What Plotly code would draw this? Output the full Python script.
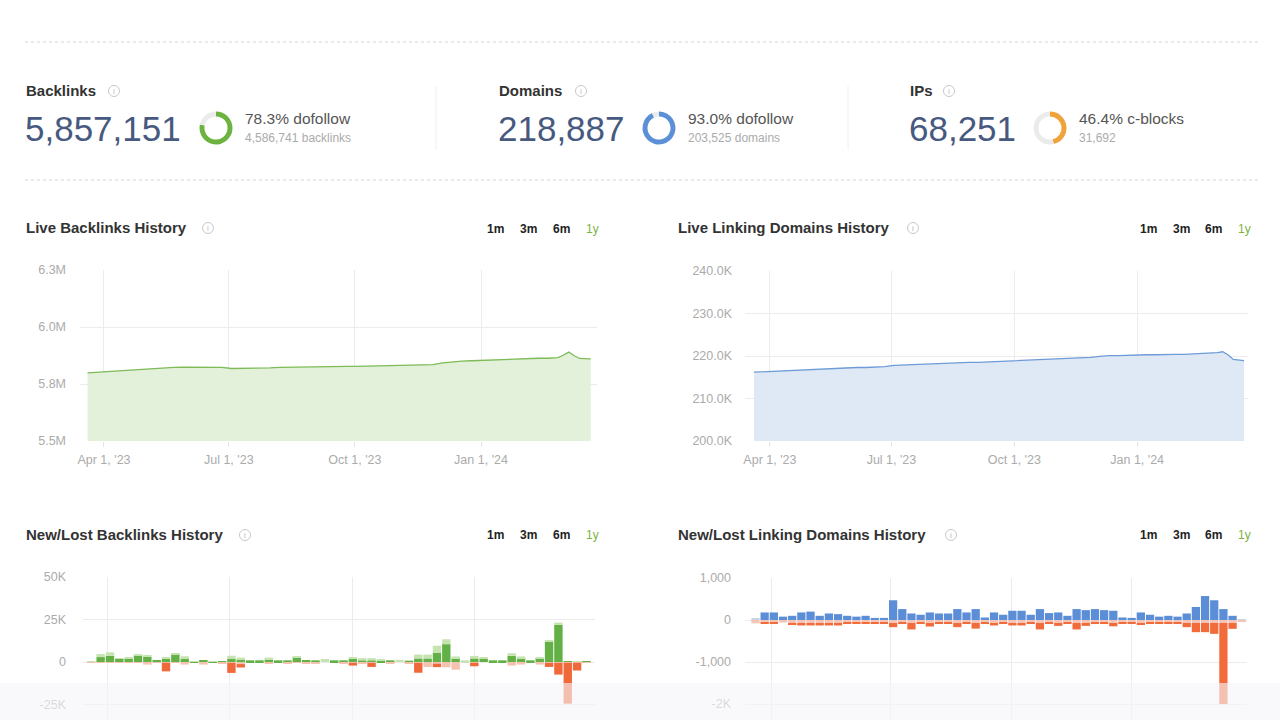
import plotly.graph_objects as go
import pandas as pd

W, H = 1280, 720
def px(x):
    return x / W
def py(y):
    return 1 - y / H

FONT = "Liberation Sans, Arial, Helvetica, sans-serif"

# ---------------- summary metrics ----------------
metric_labels = ["Backlinks", "Domains", "IPs"]
metric_values = ["5,857,151", "218,887", "68,251"]
ratio_pct = [78.3, 93.0, 46.4]
ratio_labels = ["78.3% dofollow", "93.0% dofollow", "46.4% c-blocks"]
ratio_subs = ["4,586,741 backlinks", "203,525 domains", "31,692"]
ring_colors = ["#6db33f", "#5b8fd6", "#f0a33a"]

# ---------------- live history (weekly + last days) ----------------
weekly_dates = list(pd.date_range("2023-03-20", periods=50, freq="7D"))
extra_dates = list(pd.to_datetime(["2024-03-01", "2024-03-05", "2024-03-09",
                                   "2024-03-13", "2024-03-17", "2024-03-21"]))
live_dates = weekly_dates + extra_dates

backlinks_m = [5.799, 5.802, 5.805, 5.808, 5.810, 5.813, 5.816, 5.818, 5.820, 5.823,
               5.824, 5.824, 5.824, 5.824, 5.823, 5.818, 5.818, 5.819, 5.820, 5.821,
               5.823, 5.824, 5.824, 5.825, 5.825, 5.826, 5.826, 5.827, 5.827, 5.828,
               5.829, 5.830, 5.831, 5.832, 5.833, 5.834, 5.835, 5.843, 5.848, 5.850,
               5.852, 5.854, 5.855, 5.856, 5.857, 5.859, 5.862, 5.863, 5.863, 5.866,
               5.876, 5.890, 5.874, 5.862, 5.861, 5.860]

domains_k = [216.2, 216.3, 216.5, 216.6, 216.7, 216.8, 216.9, 217.0, 217.0, 217.1,
             217.2, 217.3, 217.3, 217.4, 217.5, 217.8, 217.9, 217.9, 218.0, 218.1,
             218.2, 218.3, 218.4, 218.5, 218.5, 218.6, 218.7, 218.7, 218.8, 218.9,
             219.0, 219.1, 219.2, 219.3, 219.4, 219.5, 219.7, 219.9, 220.1, 220.1,
             220.2, 220.2, 220.3, 220.3, 220.4, 220.4, 220.4, 220.5, 220.5, 220.6,
             220.8, 221.0, 220.3, 219.2, 219.0, 218.9]

# ---------------- new / lost history (weekly bars) ----------------
bl_bar_dates = pd.date_range("2023-03-19 12:00", periods=54, freq="7D")
rd_bar_dates = pd.date_range("2023-03-20", periods=54, freq="7D")

bl_new_dark_k = [0, 2.9, 3.7, 1.8, 2.1, 4.1, 3.1, 1.2, 1.8, 4.7,
                 2.0, 0.4, 1.2, 0.3, 0.2, 2.0, 1.6, 1.0, 1.0, 1.6,
                 1.0, 1.0, 2.9, 1.2, 1.0, 0, 1.0, 1.0, 1.8, 1.0,
                 1.0, 1.0, 1.0, 0, 0.8, 2.1, 2.1, 5.3, 10.5, 2.3,
                 0, 2.1, 2.0, 1.0, 1.0, 3.7, 2.3, 1.0, 2.3, 12.0,
                 21.8, 0.3, 0.3, 0.3]
bl_new_light_k = [0.4, 1.8, 2.0, 0.4, 0.4, 0.4, 0.8, 0, 0.8, 0.4,
                  1.4, 0.2, 0, 0.2, 0, 1.7, 1.0, 0, 0, 1.0,
                  0, 0, 0.3, 0, 0, 1.8, 0, 0, 1.0, 1.3,
                  1.3, 0.8, 0, 1.3, 0, 2.3, 2.3, 4.3, 2.9, 1.0,
                  1.0, 1.5, 0.4, 0, 0, 1.5, 1.0, 0, 0.3, 0.4,
                  1.4, 0, 0.3, 0]
bl_lost_light_k = [-0.3, -0.5, -0.3, -0.3, -0.3, -0.3, -1.5, -0.3, -0.5, -0.3,
                   -1.5, 0, -1.5, 0, -1.0, -0.5, -1.2, 0, 0, -1.2,
                   0, -1.2, -0.3, -1.2, -1.2, 0, 0, -1.2, -0.5, -1.2,
                   -0.5, 0, -1.2, 0, -1.2, -0.5, -2.9, -1.0, -3.1, -4.5,
                   0, -0.5, 0, 0, 0, -2.1, -1.5, 0, -1.5, -0.5,
                   -0.5, -0.5, -0.5, -0.5]
bl_lost_dark_k = [0, 0, 0, 0, 0, 0, 0, 0, -5.0, 0,
                  0, 0, 0, 0, 0, -5.9, -2.0, 0, 0, 0,
                  0, 0, 0, 0, 0, 0, 0, 0, -1.6, 0,
                  -2.4, 0, 0, 0, 0, -5.8, 0, -2.0, 0, 0,
                  0, -2.0, 0, 0, 0, 0, 0, 0, 0, -2.4,
                  -6.9, -24.0, -4.5, 0]

rd_new_dark = [0, 180, 180, 80, 100, 180, 200, 100, 155, 140,
               100, 80, 100, 50, 50, 470, 260, 155, 125, 180,
               155, 155, 260, 180, 260, 60, 180, 125, 220, 220,
               125, 260, 165, 180, 100, 260, 235, 260, 235, 220,
               60, 50, 180, 125, 80, 100, 80, 155, 310, 570,
               470, 260, 100, 0]
rd_new_light = [25, 0, 0, 0, 0, 0, 0, 0, 0, 0,
                0, 0, 0, 0, 0, 0, 0, 0, 0, 0,
                0, 0, 0, 0, 0, 0, 0, 0, 0, 0,
                0, 0, 0, 0, 0, 0, 0, 0, 0, 0,
                0, 0, 0, 0, 0, 0, 0, 0, 0, 0,
                0, 0, 0, 20]
rd_lost_light = [-80, -70, -70, -60, -70, -70, -70, -70, -70, -70,
                 -70, -70, -70, -70, -70, -70, -70, -70, -70, -70,
                 -70, -70, -70, -70, -70, -70, -70, -70, -70, -70,
                 -70, -70, -70, -70, -70, -70, -70, -70, -70, -70,
                 -70, -70, -70, -70, -70, -70, -70, -70, -70, -70,
                 -70, -70, -70, -50]
rd_lost_dark = [0, -10, -10, 0, -50, -60, -60, -60, -60, -60,
                -10, -10, -10, -10, -10, -100, -25, -155, -25, -85,
                -25, -25, -100, -25, -135, -10, -60, -25, -60, -60,
                -10, -155, -10, -70, -25, -155, -70, -25, -10, -80,
                -10, -10, -50, -10, -10, -10, -10, -100, -220, -220,
                -260, -1930, -140, 0]

month_ticks = ["2023-04-01", "2023-07-01", "2023-10-01", "2024-01-01"]
month_labels = ["Apr 1, '23", "Jul 1, '23", "Oct 1, '23", "Jan 1, '24"]

GRID = "#ececec"
TICKC = "#ababab"
TICKSIZE = 12.5

fig = go.Figure()

# live backlinks
fig.add_trace(go.Scatter(x=live_dates, y=[v * 1e6 for v in backlinks_m], mode="lines",
                         line=dict(color="#7dbb57", width=1.3), fill="tozeroy",
                         fillcolor="#e3f0da", xaxis="x", yaxis="y", hoverinfo="skip"))
# live domains
fig.add_trace(go.Scatter(x=live_dates, y=[v * 1e3 for v in domains_k], mode="lines",
                         line=dict(color="#6e9cd8", width=1.3), fill="tozeroy",
                         fillcolor="#dfe8f5", xaxis="x2", yaxis="y2", hoverinfo="skip"))

BW = 6.3 * 86400000
def add_bars(dates, vals, color, xa, ya, scale=1.0):
    fig.add_trace(go.Bar(x=dates, y=[v * scale for v in vals], width=BW,
                         marker=dict(color=color, line=dict(width=0)),
                         xaxis=xa, yaxis=ya, hoverinfo="skip"))

add_bars(bl_bar_dates, bl_new_dark_k, "#62b046", "x3", "y3", 1e3)
add_bars(bl_bar_dates, bl_new_light_k, "#c6e4b2", "x3", "y3", 1e3)
add_bars(bl_bar_dates, bl_lost_light_k, "#f6c2b0", "x3", "y3", 1e3)
add_bars(bl_bar_dates, bl_lost_dark_k, "#f0693a", "x3", "y3", 1e3)

add_bars(rd_bar_dates, rd_new_dark, "#5b8ed6", "x4", "y4")
add_bars(rd_bar_dates, rd_new_light, "#c9d3e3", "x4", "y4")
add_bars(rd_bar_dates, rd_lost_light, "#f4c4b6", "x4", "y4")
add_bars(rd_bar_dates, rd_lost_dark, "#f26b3a", "x4", "y4")

# donuts
donut_cx = [216, 659, 1050]
for pct, col, cx in zip(ratio_pct, ring_colors, donut_cx):
    r = 16.5
    fig.add_trace(go.Pie(values=[pct, 100 - pct], marker=dict(colors=[col, "#ebebeb"], line=dict(width=0)),
                         hole=0.7, sort=False, direction="clockwise", textinfo="none",
                         hoverinfo="skip", showlegend=False,
                         domain=dict(x=[px(cx - r), px(cx + r)], y=[py(128 + r), py(128 - r)])))

def xaxis_def(domain, rng, anchor, labels=True):
    return dict(domain=domain, range=rng, type="date", tickvals=month_ticks,
                ticktext=month_labels, showticklabels=labels, showgrid=True,
                gridcolor=GRID, gridwidth=1, ticks="outside" if labels else "",
                ticklen=5, tickcolor="#e4e4e4", tickfont=dict(size=TICKSIZE, color=TICKC, family=FONT),
                ticklabelstandoff=2, showline=False, zeroline=False, anchor=anchor,
                fixedrange=True, automargin=False)

def yaxis_def(domain, rng, vals, text, anchor, standoff=10):
    return dict(domain=domain, range=rng, tickvals=vals, ticktext=text, showgrid=True,
                gridcolor=GRID, gridwidth=1, zeroline=False, showline=False,
                tickfont=dict(size=TICKSIZE, color=TICKC, family=FONT), ticklabelstandoff=standoff,
                anchor=anchor, fixedrange=True, automargin=False)

layout = dict(
    width=W, height=H, margin=dict(l=0, r=0, t=0, b=0, pad=0, autoexpand=False),
    paper_bgcolor="white", plot_bgcolor="white", barmode="relative",
    showlegend=False, font=dict(family=FONT),
    xaxis=xaxis_def([px(80), px(597)], ["2023-03-14 12:00", "2024-03-25 14:00"], "y"),
    yaxis=yaxis_def([py(441), py(270)], [5.5e6, 6.25e6], [5.5e6, 5.75e6, 6.0e6, 6.25e6],
                    ["5.5M", "5.8M", "6.0M", "6.3M"], "x", 13),
    xaxis2=xaxis_def([px(745), px(1248)], ["2023-03-13 08:00", "2024-03-24"], "y2"),
    yaxis2=yaxis_def([py(441), py(271)], [200e3, 240e3], [200e3, 210e3, 220e3, 230e3, 240e3],
                     ["200.0K", "210.0K", "220.0K", "230.0K", "240.0K"], "x2", 12),
    xaxis3=xaxis_def([px(83), px(595)], ["2023-03-13 07:00", "2024-03-30 22:00"], "y3", False),
    yaxis3=yaxis_def([0, py(577)], [-34.1e3, 50e3], [-25e3, 0, 25e3, 50e3],
                     ["-25K", "0", "25K", "50K"], "x3", 16),
    xaxis4=xaxis_def([px(745), px(1247)], ["2023-03-12", "2024-03-29"], "y4", False),
    yaxis4=yaxis_def([0, py(578)], [-2381, 1000], [-2000, -1000, 0, 1000],
                     ["-2K", "-1,000", "0", "1,000"], "x4", 13),
)

shapes = []
annotations = []

def ann(text, x, y, size, color, anchor="left", family=FONT):
    annotations.append(dict(text=text, x=px(x), y=py(y), xref="paper", yref="paper",
                            xanchor=anchor, yanchor="middle", showarrow=False,
                            font=dict(size=size, color=color, family=family), borderpad=0))

def info_icon(cx, cy):
    r = 5.5
    shapes.append(dict(type="circle", xref="paper", yref="paper",
                       x0=px(cx - r), x1=px(cx + r), y0=py(cy + r), y1=py(cy - r),
                       line=dict(color="#c9c9c9", width=1)))
    ann("i", cx, cy, 8, "#b5b5b5", anchor="center")

# separators
for yy in [42, 180]:
    shapes.append(dict(type="line", xref="paper", yref="paper", x0=px(25), x1=px(1258),
                       y0=py(yy), y1=py(yy), line=dict(color="#d4d4d4", width=1, dash="dot")))
for xx in [436, 848]:
    shapes.append(dict(type="line", xref="paper", yref="paper", x0=px(xx), x1=px(xx),
                       y0=py(86), y1=py(150), line=dict(color="#f0f0f0", width=1)))

metric_x = [25, 498, 909]
info_x = [114, 581, 949]
text_x = [244, 687, 1078]
for lab, val, rl, rs, mx, ix, tx in zip(metric_labels, metric_values, ratio_labels,
                                         ratio_subs, metric_x, info_x, text_x):
    ann("<b>" + lab + "</b>", mx, 90, 15, "#333333")
    info_icon(ix, 91)
    ann(val, mx - 1, 128, 35, "#47597f")
    ann(rl, tx, 119, 15.5, "#555555")
    ann(rs, tx, 138, 12, "#ababab")

titles = [("Live Backlinks History", 25, 227, 208), ("Live Linking Domains History", 677, 227, 913),
          ("New/Lost Backlinks History", 25, 534, 245), ("New/Lost Linking Domains History", 677, 534, 951)]
for t, x, y, ix in titles:
    ann("<b>" + t + "</b>", x, y, 15, "#333333")
    info_icon(ix, y + 1)

btn_labels = ["1m", "3m", "6m", "1y"]
for y in [229, 535]:
    for xs in [[495, 528, 561, 592], [1148, 1181, 1213, 1244]]:
        for lab, bx in zip(btn_labels, xs):
            col = "#7cb342" if lab == "1y" else "#222222"
            ann("<b>" + lab + "</b>" if lab != "1y" else lab, bx, y, 12, col, anchor="center")

# faded bottom overlay
shapes.append(dict(type="rect", xref="paper", yref="paper", x0=0, x1=1, y0=0, y1=py(683),
                   fillcolor="rgba(246,246,249,0.62)", line=dict(width=0), layer="above"))

layout["shapes"] = shapes
layout["annotations"] = annotations
fig.update_layout(**layout)
fig.write_html("out.html")
